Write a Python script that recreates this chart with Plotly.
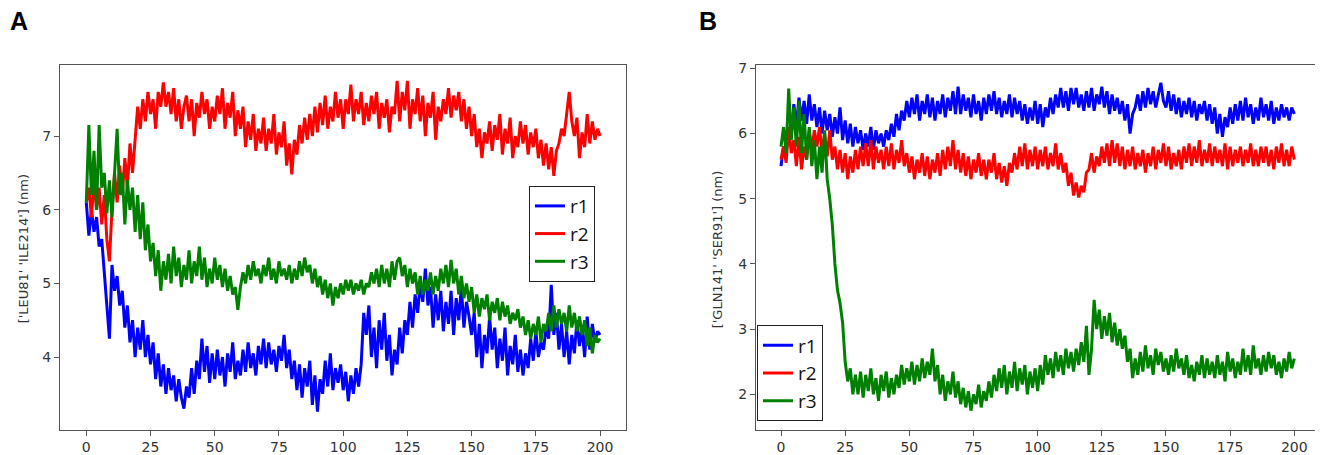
import plotly.graph_objects as go

# browser window size; the page body has an 8px margin
WIN_W, WIN_H = 1323, 455
OFF = 8
W, H = WIN_W - OFF, WIN_H - OFF

# time axis (ns)
t = list(range(0, 201))

# Panel A: ['LEU81' 'ILE214'] distance (nm)
a_r1 = [6.1, 5.65, 6.0, 5.7, 5.9, 5.5, 5.6, 5.1, 4.7, 4.25,
        5.25, 4.9, 5.1, 4.7, 4.9, 4.4, 4.7, 4.2, 4.5, 4.0,
        4.4, 4.1, 4.5, 4.0, 4.3, 3.9, 4.2, 3.7, 4.05, 3.6,
        3.9, 3.5, 3.85, 3.55, 3.75, 3.4, 3.7, 3.45, 3.3, 3.6,
        3.45, 3.85, 3.5, 3.95, 3.7, 4.25, 3.8, 4.15, 3.65, 4.05,
        3.7, 4.1, 3.75, 4.0, 3.6, 4.05, 3.8, 4.2, 3.7, 3.95,
        3.75, 4.1, 3.8, 4.2, 3.85, 4.05, 3.75, 4.15, 3.9, 4.25,
        3.85, 4.2, 3.9, 4.1, 3.8, 4.15, 3.95, 4.3, 3.85, 4.1,
        3.7, 3.95, 3.55, 3.9, 3.45, 3.85, 3.6, 3.95, 3.35, 3.75,
        3.26, 3.7, 3.5, 3.95, 3.6, 4.05, 3.55, 3.85, 3.65, 3.9,
        3.55, 3.8, 3.4, 3.75, 3.5, 3.85, 3.6, 3.9, 4.6, 4.3,
        4.7, 4.0, 4.4, 3.85, 4.5, 4.1, 4.6, 3.95, 4.3, 3.75,
        4.1, 3.9, 4.4, 4.05, 4.5, 4.3, 4.75, 4.4, 4.85, 4.6,
        5.0, 4.75, 5.2, 4.7, 4.95, 4.4, 4.85, 4.5, 4.9, 4.35,
        4.75, 4.45, 4.9, 4.3, 4.8, 4.5, 4.95, 4.4, 4.75, 4.55,
        4.3, 4.6, 4.0, 4.45, 3.85, 4.3, 4.05, 4.55, 4.1, 4.4,
        3.85, 4.25, 3.95, 4.4, 3.75, 4.15, 3.9, 4.3, 3.8, 4.1,
        3.75, 4.05, 3.85, 4.25, 3.95, 4.35, 4.0, 4.2, 4.1, 4.4,
        4.25, 4.98, 4.3, 4.6, 4.1, 4.45, 4.0, 4.35, 3.9, 4.3,
        4.05, 4.5, 4.15, 4.4, 4.0, 4.55, 4.1, 4.45, 4.2, 4.35,
        4.3]
a_r2 = [6.1, 6.3, 5.9, 6.4, 6.0, 6.3, 5.8, 6.2, 5.6, 5.3,
        6.0, 6.5, 6.1, 6.6, 6.2, 6.7, 6.3, 6.9, 6.5, 7.0,
        7.4, 7.1, 7.5, 7.2, 7.6, 7.3, 7.5, 7.1, 7.6, 7.4,
        7.73, 7.4, 7.6, 7.3, 7.65, 7.2, 7.5, 7.1, 7.4, 7.55,
        7.2, 7.5, 7.0, 7.45, 7.25, 7.6, 7.3, 7.5, 7.1, 7.4,
        7.2, 7.55, 7.3, 7.65, 7.1, 7.45, 7.25, 7.6, 7.0, 7.35,
        7.1, 7.4, 6.85, 7.2, 6.95, 7.3, 6.8, 7.1, 6.9, 7.25,
        6.8, 7.1, 6.9, 7.3, 6.75, 7.05, 6.85, 7.2, 6.6, 6.9,
        6.48, 6.95, 6.75, 7.15, 6.9, 7.25, 6.95, 7.3, 7.0, 7.4,
        7.05, 7.45, 7.15, 7.55, 7.1, 7.4, 7.2, 7.6, 7.25, 7.5,
        7.1, 7.5, 7.3, 7.7, 7.2, 7.5, 7.3, 7.6, 7.15, 7.45,
        7.2, 7.55, 7.3, 7.6, 7.1, 7.45, 7.25, 7.5, 7.05, 7.4,
        7.3, 7.75, 7.2, 7.6, 7.35, 7.75, 7.1, 7.5, 7.3, 7.65,
        7.2, 7.55, 7.0, 7.45, 7.25, 7.6, 6.95, 7.4, 7.2, 7.5,
        7.3, 7.65, 7.25, 7.55, 7.35, 7.6, 7.2, 7.5, 7.1, 7.4,
        7.0, 7.3, 6.85, 7.1, 6.7, 7.05, 6.9, 7.2, 6.8, 7.15,
        6.95, 7.3, 6.75, 7.1, 6.9, 7.25, 6.7, 7.0, 6.85, 7.2,
        6.9, 7.15, 6.75, 7.05, 6.85, 7.1, 6.7, 6.95, 6.6, 6.9,
        6.55, 6.85, 6.46, 6.8, 6.9, 7.1, 7.0, 7.3, 7.6, 7.2,
        7.0, 7.25, 6.7, 7.05, 6.85, 7.3, 6.9, 7.2, 6.95, 7.1,
        7.0]
a_r3 = [6.1, 7.15, 6.2, 6.8, 6.0, 7.15, 6.3, 6.5, 5.95, 6.4,
        5.9, 6.6, 7.1, 6.2, 6.5, 5.8, 6.4, 6.0, 6.3, 5.7,
        6.2, 5.6, 6.1, 5.45, 5.8, 5.3, 5.55, 5.1, 5.45, 4.9,
        5.3, 5.05, 5.4, 5.0, 5.5, 5.1, 5.35, 4.95, 5.25, 5.05,
        5.45, 5.0, 5.3, 5.1, 5.5, 5.05, 5.35, 4.95, 5.2, 5.0,
        5.35, 5.05, 5.25, 4.95, 5.2, 4.9, 5.1, 4.85, 4.95, 4.64,
        4.95, 5.15, 5.0, 5.25, 5.05, 5.3, 5.1, 5.2, 5.0, 5.25,
        5.1, 5.35, 5.05, 5.2, 5.0, 5.3, 5.1, 5.2, 5.05, 5.25,
        5.0, 5.2, 5.05, 5.3, 5.1, 5.35, 5.15, 5.25, 5.0, 5.2,
        4.95, 5.1, 4.85, 5.05, 4.8, 5.0, 4.7, 4.95, 4.8, 5.0,
        4.85, 5.05, 4.9, 5.05, 4.85, 5.0, 4.9, 5.05, 4.85, 5.0,
        4.95, 5.15, 5.0, 5.2, 4.95, 5.25, 5.0, 5.2, 4.95, 5.3,
        5.05, 5.3, 5.35, 5.1, 5.25, 4.95, 5.2, 5.0, 5.15, 4.85,
        5.1, 4.85, 5.05, 4.9, 5.15, 4.85, 5.1, 4.9, 5.2, 5.0,
        5.25, 4.95, 5.32, 5.0, 5.2, 4.85, 5.1, 4.8, 5.0, 4.75,
        4.95, 4.6, 4.85, 4.55, 4.8, 4.65, 4.85, 4.5, 4.75, 4.6,
        4.8, 4.5, 4.75, 4.55, 4.7, 4.45, 4.6, 4.5, 4.65, 4.4,
        4.55, 4.3, 4.5, 4.25, 4.45, 4.3, 4.55, 4.2, 4.45, 4.35,
        4.6, 4.35, 4.7, 4.4, 4.65, 4.45, 4.6, 4.35, 4.7, 4.4,
        4.6, 4.35, 4.55, 4.3, 4.5, 4.15, 4.4, 4.05, 4.3, 4.2,
        4.25]

# Panel B: ['GLN141' 'SER91'] distance (nm)
b_r1 = [5.5, 5.8, 5.7, 6.1, 6.0, 6.45, 6.1, 6.55, 6.2, 6.5,
        6.15, 6.6, 6.2, 6.45, 6.1, 6.4, 6.0, 6.35, 6.05, 6.3,
        5.95, 6.25, 6.0, 6.4, 5.9, 6.2, 5.85, 6.15, 5.8, 6.1,
        5.85, 6.05, 5.75, 6.0, 5.8, 6.1, 5.75, 6.05, 5.85, 6.0,
        5.8, 6.05, 5.9, 6.15, 5.95, 6.3, 6.05, 6.35, 6.2, 6.5,
        6.25, 6.55, 6.3, 6.6, 6.2, 6.5, 6.3, 6.6, 6.25, 6.55,
        6.2, 6.5, 6.3, 6.6, 6.25, 6.55, 6.35, 6.65, 6.3, 6.72,
        6.3, 6.6, 6.35, 6.55, 6.25, 6.6, 6.3, 6.5, 6.2, 6.55,
        6.3, 6.6, 6.35, 6.65, 6.3, 6.55, 6.25, 6.5, 6.3, 6.6,
        6.25, 6.55, 6.3, 6.5, 6.2, 6.45, 6.15, 6.4, 6.2, 6.5,
        6.15, 6.45, 6.1, 6.4, 6.25, 6.55, 6.3, 6.6, 6.4, 6.7,
        6.4, 6.65, 6.35, 6.7, 6.45, 6.7, 6.4, 6.6, 6.35, 6.65,
        6.4, 6.7, 6.35, 6.6, 6.45, 6.72, 6.4, 6.65, 6.3, 6.6,
        6.35, 6.55, 6.3, 6.5, 6.2, 6.45, 6.0, 6.3, 6.4, 6.6,
        6.35, 6.65, 6.4, 6.7, 6.45, 6.65, 6.4, 6.6, 6.78, 6.5,
        6.4, 6.65, 6.35, 6.6, 6.3, 6.55, 6.25, 6.5, 6.3, 6.55,
        6.25, 6.5, 6.2, 6.45, 6.3, 6.5, 6.2, 6.45, 6.15, 6.4,
        6.0, 6.3, 5.95, 6.25, 6.1, 6.4, 6.15, 6.45, 6.2, 6.5,
        6.2, 6.55, 6.25, 6.45, 6.15, 6.4, 6.2, 6.55, 6.25, 6.45,
        6.2, 6.5, 6.15, 6.4, 6.2, 6.45, 6.25, 6.4, 6.2, 6.4,
        6.3]
b_r2 = [5.6, 5.8, 5.55, 6.1, 5.7, 5.9, 5.5, 5.95, 5.45, 5.8,
        5.6, 6.05, 5.75, 6.05, 5.8, 6.1, 5.7, 6.0, 5.65, 6.05,
        5.6, 5.8, 5.45, 5.75, 5.4, 5.7, 5.3, 5.65, 5.4, 5.75,
        5.45, 5.8, 5.5, 5.85, 5.5, 5.9, 5.45, 5.8, 5.55, 5.75,
        5.45, 5.8, 5.5, 5.85, 5.45, 5.75, 5.55, 5.9, 5.5, 5.7,
        5.4, 5.65, 5.3, 5.6, 5.4, 5.7, 5.35, 5.65, 5.3, 5.6,
        5.4, 5.7, 5.35, 5.75, 5.45, 5.8, 5.5, 5.9, 5.45, 5.75,
        5.4, 5.7, 5.35, 5.65, 5.3, 5.6, 5.4, 5.7, 5.35, 5.6,
        5.3, 5.6, 5.4, 5.7, 5.3, 5.55, 5.25, 5.5, 5.2, 5.55,
        5.4, 5.7, 5.45, 5.8, 5.5, 5.85, 5.45, 5.75, 5.5, 5.8,
        5.45, 5.75, 5.5, 5.8, 5.45, 5.7, 5.5, 5.85, 5.45, 5.7,
        5.4, 5.55, 5.2, 5.4, 5.05, 5.25, 5.02, 5.2, 5.1, 5.4,
        5.45, 5.7, 5.4, 5.65, 5.5, 5.8, 5.55, 5.85, 5.5, 5.9,
        5.55, 5.85, 5.5, 5.8, 5.45, 5.75, 5.5, 5.8, 5.45, 5.7,
        5.5, 5.75, 5.4, 5.7, 5.5, 5.8, 5.45, 5.75, 5.55, 5.85,
        5.5, 5.8, 5.45, 5.7, 5.5, 5.75, 5.45, 5.8, 5.55, 5.85,
        5.5, 5.8, 5.55, 5.9, 5.5, 5.75, 5.55, 5.85, 5.5, 5.8,
        5.55, 5.75, 5.5, 5.85, 5.45, 5.8, 5.5, 5.75, 5.55, 5.8,
        5.5, 5.75, 5.55, 5.85, 5.5, 5.75, 5.5, 5.8, 5.55, 5.8,
        5.5, 5.75, 5.45, 5.8, 5.55, 5.85, 5.5, 5.75, 5.5, 5.8,
        5.6]
b_r3 = [5.8, 6.1, 5.7, 6.69, 5.9, 6.4, 5.8, 6.5, 5.7, 6.3,
        5.6, 6.1, 5.5, 5.9, 5.3, 5.8, 5.4, 6.05, 5.3, 5.0,
        4.6, 4.0, 3.6, 3.4, 3.1, 2.5, 2.2, 2.4, 2.0, 2.3,
        2.0, 2.35, 1.95, 2.3, 2.05, 2.4, 2.0, 2.25, 1.9, 2.3,
        2.05, 2.35, 1.95, 2.25, 2.0, 2.3, 2.1, 2.45, 2.15, 2.4,
        2.2, 2.5, 2.15, 2.45, 2.2, 2.55, 2.25, 2.5, 2.3, 2.7,
        2.2, 2.45, 2.0, 2.3, 1.9, 2.2, 2.0, 2.35, 1.95, 2.2,
        1.85, 2.1, 1.8, 2.05, 1.75, 2.0, 1.85, 2.15, 1.8, 2.05,
        1.9, 2.2, 1.95, 2.3, 2.05, 2.4, 2.1, 2.45, 2.0, 2.35,
        2.1, 2.5, 2.05, 2.4, 2.15, 2.45, 2.0, 2.35, 2.1, 2.4,
        2.05, 2.45, 2.15, 2.6, 2.3, 2.55, 2.25, 2.65, 2.35, 2.6,
        2.3, 2.7, 2.4, 2.65, 2.35, 2.7, 2.45, 2.8, 2.5, 3.05,
        2.3, 2.7, 3.45, 3.0, 3.3, 2.85, 3.2, 2.9, 3.25, 2.8,
        3.1, 2.75, 3.0, 2.7, 2.9, 2.5, 2.7, 2.25, 2.55, 2.3,
        2.65, 2.35, 2.75, 2.4, 2.6, 2.3, 2.7, 2.45, 2.65, 2.35,
        2.55, 2.3, 2.6, 2.35, 2.7, 2.4, 2.55, 2.3, 2.6, 2.25,
        2.45, 2.2, 2.5, 2.3, 2.6, 2.25, 2.55, 2.3, 2.5, 2.25,
        2.6, 2.3, 2.5, 2.2, 2.65, 2.35, 2.55, 2.25, 2.5, 2.3,
        2.7, 2.35, 2.6, 2.3, 2.75, 2.4, 2.55, 2.3, 2.6, 2.35,
        2.65, 2.4, 2.6, 2.3, 2.5, 2.25, 2.55, 2.35, 2.65, 2.4,
        2.55]

names = ["r1", "r2", "r3"]
colors = ["#0000ff", "#ff0000", "#008000"]
x_ticks = [0, 25, 50, 75, 100, 125, 150, 175, 200]
a_yticks = [4, 5, 6, 7]
b_yticks = [2, 3, 4, 5, 6, 7]

LW = 3

fig = go.Figure()
for ys, nm, c in zip([a_r1, a_r2, a_r3], names, colors):
    fig.add_trace(go.Scatter(x=t, y=ys, mode="lines", name=nm,
                             line=dict(color=c, width=LW),
                             xaxis="x", yaxis="y", legend="legend"))
for ys, nm, c in zip([b_r1, b_r2, b_r3], names, colors):
    fig.add_trace(go.Scatter(x=t, y=ys, mode="lines", name=nm,
                             line=dict(color=c, width=LW),
                             xaxis="x2", yaxis="y2", legend="legend2"))


def px(x):
    # screen pixel -> paper fraction
    return (x - OFF) / W


def py(y):
    return 1 - (y - OFF) / H


tickfont = dict(family="DejaVu Sans", size=14, color="#333333")
ax_common = dict(showline=True, mirror=True, linecolor="#555555", linewidth=1,
                 ticks="outside", ticklen=5, tickcolor="#555555",
                 showgrid=False, zeroline=False, tickfont=tickfont)
legfont = dict(family="Open Sans", size=19, color="#111111")

fig.update_layout(
    width=W, height=H,
    margin=dict(l=0, r=0, t=0, b=0),
    paper_bgcolor="white", plot_bgcolor="white",
    xaxis=dict(domain=[px(60), px(626)], range=[-10.24, 210.1],
               tickvals=x_ticks, anchor="y", **ax_common),
    yaxis=dict(domain=[py(429.3), py(61)], range=[3.015, 7.96],
               tickvals=a_yticks, anchor="x", **ax_common),
    xaxis2=dict(domain=[px(756), px(1321)], range=[-9.74, 210.4],
                tickvals=x_ticks, anchor="y2", **ax_common),
    yaxis2=dict(domain=[py(429.3), py(61)], range=[1.46, 7.045],
                tickvals=b_yticks, anchor="x2", **ax_common),
    legend=dict(x=px(529), y=py(183), xanchor="left", yanchor="top",
                bgcolor="white", bordercolor="#222222", borderwidth=1,
                font=legfont, itemwidth=30, tracegroupgap=0),
    legend2=dict(x=px(757), y=py(324), xanchor="left", yanchor="top",
                 bgcolor="white", bordercolor="#222222", borderwidth=1,
                 font=legfont, itemwidth=30, tracegroupgap=0),
    showlegend=True,
)

fig.add_annotation(x=px(8), y=py(0), xref="paper", yref="paper",
                   xanchor="left", yanchor="top", showarrow=False,
                   text="<b>A</b>",
                   font=dict(family="Liberation Sans", size=25, color="black"))
fig.add_annotation(x=px(697), y=py(0), xref="paper", yref="paper",
                   xanchor="left", yanchor="top", showarrow=False,
                   text="<b>B</b>",
                   font=dict(family="Liberation Sans", size=25, color="black"))
fig.add_annotation(x=px(23), y=py(247), xref="paper", yref="paper",
                   xanchor="center", yanchor="middle", showarrow=False,
                   textangle=-90, text="['LEU81' 'ILE214'] (nm)",
                   font=dict(family="DejaVu Sans", size=13, color="#333333"))
fig.add_annotation(x=px(717), y=py(247), xref="paper", yref="paper",
                   xanchor="center", yanchor="middle", showarrow=False,
                   textangle=-90, text="['GLN141' 'SER91'] (nm)",
                   font=dict(family="DejaVu Sans", size=13, color="#333333"))

fig.write_html("out.html")
